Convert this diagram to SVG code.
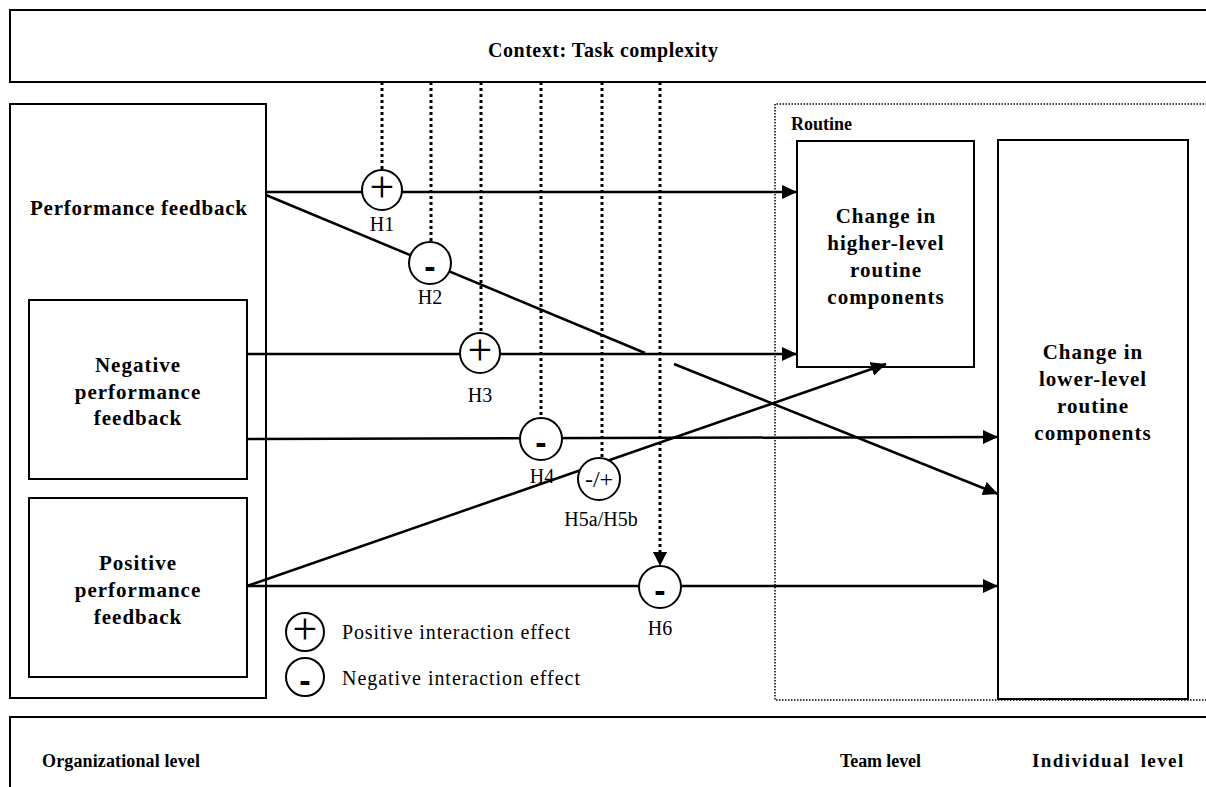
<svg xmlns="http://www.w3.org/2000/svg" width="1206" height="787" viewBox="0 0 1206 787">
  <style>
    .box { fill: #fff; stroke: #000; stroke-width: 2; }
    .title { font-family: "Liberation Serif", "Times New Roman", serif; font-weight: bold; font-size: 18px; fill: #000; }
    .node { font-family: "Liberation Serif", "Times New Roman", serif; font-weight: bold; font-size: 21px; fill: #000; text-anchor: middle; letter-spacing: 1px; }
    .lbl { font-family: "Liberation Serif", "Times New Roman", serif; font-size: 20px; fill: #000; text-anchor: middle; }
    .legend { font-family: "Liberation Serif", "Times New Roman", serif; font-size: 20px; fill: #000; }
    .link { fill: none; stroke: #000; stroke-width: 2.5; }
    .mod { fill: none; stroke: #000; stroke-width: 3; stroke-dasharray: 3 3; }
    .frame { fill: none; stroke: #000; stroke-width: 1.5; stroke-dasharray: 1.5 1.5; }
    .ring { fill: #fff; stroke: #000; stroke-width: 2; }
    .plus { font-family: "Liberation Serif", "Times New Roman", serif; font-size: 44px; fill: #000; text-anchor: middle; }
    .minus { font-family: "Liberation Sans", Arial, sans-serif; font-weight: bold; font-size: 34px; fill: #000; text-anchor: middle; }
    .mixed { font-family: "Liberation Serif", "Times New Roman", serif; font-size: 24px; fill: #000; text-anchor: middle; }
  </style>
  <defs>
    <marker id="arrow" markerUnits="userSpaceOnUse" markerWidth="16" markerHeight="14" refX="15" refY="7" orient="auto">
      <path d="M0,0 L15,7 L0,14 z" fill="#000"/>
    </marker>
  </defs>

  <rect width="1206" height="787" fill="#fff"/>

  <!-- context band -->
  <g id="context">
    <rect class="box" x="10" y="10" width="1210" height="72"/>
    <text class="title" x="603" y="57" text-anchor="middle" style="font-size:20px" textLength="230" lengthAdjust="spacing">Context: Task complexity</text>
  </g>

  <!-- routine frame -->
  <g id="routine">
    <path class="frame" d="M1210,104 H775 V700 H1210"/>
    <text class="title" x="791" y="130">Routine</text>
  </g>

  <!-- feedback boxes -->
  <g id="performance-feedback">
    <rect class="box" x="10" y="104" width="256" height="594"/>
    <text class="node" x="139" y="215" textLength="218" lengthAdjust="spacing">Performance feedback</text>
  </g>
  <g id="negative-feedback">
    <rect class="box" x="29" y="300" width="218" height="179"/>
    <text class="node" x="138" y="372">Negative</text>
    <text class="node" x="138" y="399">performance</text>
    <text class="node" x="138" y="425">feedback</text>
  </g>
  <g id="positive-feedback">
    <rect class="box" x="29" y="498" width="218" height="179"/>
    <text class="node" x="138" y="570">Positive</text>
    <text class="node" x="138" y="597">performance</text>
    <text class="node" x="138" y="624">feedback</text>
  </g>

  <!-- outcome boxes -->
  <g id="higher-level">
    <rect class="box" x="797" y="141" width="177" height="226"/>
    <text class="node" x="886" y="223">Change in</text>
    <text class="node" x="886" y="250">higher-level</text>
    <text class="node" x="886" y="277">routine</text>
    <text class="node" x="886" y="304">components</text>
  </g>
  <g id="lower-level">
    <rect class="box" x="998" y="140" width="190" height="559"/>
    <text class="node" x="1093" y="359">Change in</text>
    <text class="node" x="1093" y="386">lower-level</text>
    <text class="node" x="1093" y="413">routine</text>
    <text class="node" x="1093" y="440">components</text>
  </g>

  <!-- connectors -->
  <g id="connectors">
    <line class="link" x1="266" y1="192" x2="797" y2="192" marker-end="url(#arrow)"/>
    <line class="link" x1="266" y1="195" x2="645" y2="353"/>
    <line class="link" x1="674" y1="364" x2="998" y2="494" marker-end="url(#arrow)"/>
    <line class="link" x1="247" y1="354" x2="797" y2="354" marker-end="url(#arrow)"/>
    <line class="link" x1="247" y1="439" x2="998" y2="437" marker-end="url(#arrow)"/>
    <line class="link" x1="247" y1="586" x2="886" y2="364" marker-end="url(#arrow)"/>
    <line class="link" x1="247" y1="586" x2="998" y2="586" marker-end="url(#arrow)"/>

    <line class="mod" x1="382" y1="82" x2="382" y2="170"/>
    <line class="mod" x1="431" y1="82" x2="431" y2="242"/>
    <line class="mod" x1="481" y1="82" x2="481" y2="332"/>
    <line class="mod" x1="541" y1="82" x2="541" y2="418"/>
    <line class="mod" x1="602" y1="82" x2="602" y2="458"/>
    <line class="mod" x1="660" y1="82" x2="660" y2="553"/>
    <path d="M653,552 L667,552 L660,566 z" fill="#000"/>
  </g>

  <!-- interaction markers -->
  <g id="h1">
    <circle class="ring" cx="382" cy="190" r="20"/>
    <text class="plus" x="382" y="202">+</text>
    <text class="lbl" x="382" y="231">H1</text>
  </g>
  <g id="h2">
    <circle class="ring" cx="430" cy="263" r="21"/>
    <text class="minus" x="430" y="278">-</text>
    <text class="lbl" x="430" y="304">H2</text>
  </g>
  <g id="h3">
    <circle class="ring" cx="480" cy="353" r="20"/>
    <text class="plus" x="480" y="365">+</text>
    <text class="lbl" x="480" y="402">H3</text>
  </g>
  <g id="h4">
    <circle class="ring" cx="541" cy="439" r="21"/>
    <text class="minus" x="541" y="454">-</text>
    <text class="lbl" x="542" y="483">H4</text>
  </g>
  <g id="h5">
    <circle class="ring" cx="599" cy="479" r="21"/>
    <text class="mixed" x="599" y="487">-/+</text>
    <text class="lbl" x="601" y="526">H5a/H5b</text>
  </g>
  <g id="h6">
    <circle class="ring" cx="660" cy="587" r="21"/>
    <text class="minus" x="660" y="602">-</text>
    <text class="lbl" x="660" y="635">H6</text>
  </g>

  <!-- key -->
  <g id="legend">
    <circle class="ring" cx="305" cy="632" r="19"/>
    <text class="plus" x="305" y="644">+</text>
    <text class="legend" x="342" y="639" textLength="228" lengthAdjust="spacing">Positive interaction effect</text>
    <circle class="ring" cx="305" cy="677" r="19"/>
    <text class="minus" x="305" y="692">-</text>
    <text class="legend" x="342" y="685" textLength="238" lengthAdjust="spacing">Negative interaction effect</text>
  </g>

  <!-- level band -->
  <g id="levels">
    <rect class="box" x="10" y="717" width="1210" height="90"/>
    <text class="title" x="42" y="767" textLength="158" lengthAdjust="spacing">Organizational level</text>
    <text class="title" x="840" y="767" textLength="81" lengthAdjust="spacing">Team level</text>
    <text class="title" x="1032" y="767" style="font-size:19px;letter-spacing:1.4px;word-spacing:4px">Individual level</text>
  </g>
</svg>
